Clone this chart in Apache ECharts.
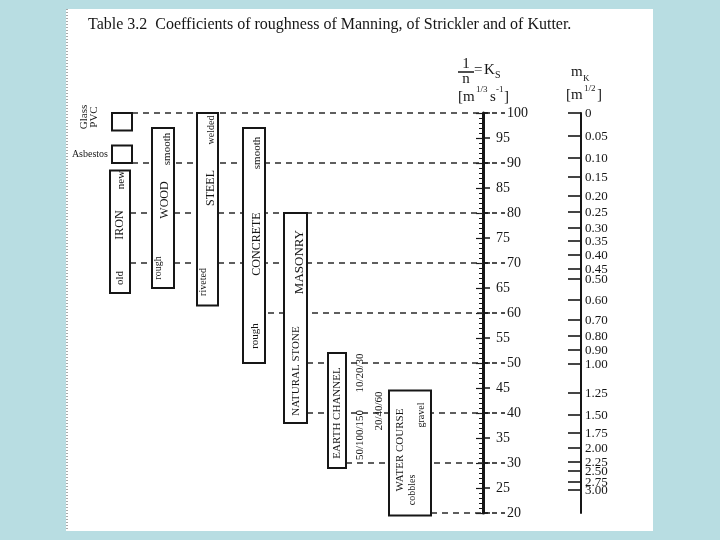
<!DOCTYPE html>
<html>
<head>
<meta charset="utf-8">
<script src="https://cdn.jsdelivr.net/npm/echarts@6/dist/echarts.min.js"></script>
<style>
  html, body { margin: 0; padding: 0; background: #b8dde2; }
  #chart { width: 720px; height: 540px; }
</style>
</head>
<body>
<div id="chart"></div>
<script>
// ranges of Ks = 1/n  [m^1/3 s^-1] for each material
const boxNames = ['Glass PVC', 'Asbestos', 'IRON', 'WOOD', 'STEEL', 'CONCRETE', 'MASONRY', 'EARTH CHANNEL', 'WATER COURSE'];
const ksTop = [100, 93.5, 88.5, 97, 100, 97, 80, 52, 44.5];
const ksBottom = [96.5, 90, 64, 65, 61.5, 50, 38, 29, 19.5];

// words written in / beside the boxes, and the Ks level of their centre
const noteText = ['old', 'IRON', 'new', 'rough', 'WOOD', 'smooth', 'riveted', 'STEEL', 'welded',
  'rough', 'CONCRETE', 'smooth', 'NATURAL STONE', 'MASONRY', 'EARTH CHANNEL', '50/100/150', '10/20/30', '20/40/60',
  'WATER COURSE', 'cobbles', 'gravel', 'Glass', 'PVC', 'Asbestos'];
const noteKs = [67, 77.6, 86.6, 69, 82.6, 92.8, 66.2, 85, 96.6,
  55.4, 73.8, 92, 48.4, 70.2, 40, 35.6, 48, 40.4,
  32.6, 24.6, 39.6, 99.2, 99.2, 91.8];

// dashed guide lines (Ks)
const guideKs = [100, 90, 80, 70, 60, 50, 40, 30, 20];

// Kutter scale m_K and the Ks level where each mark sits
const kutterLabels = ['0', '0.05', '0.10', '0.15', '0.20', '0.25', '0.30', '0.35', '0.40', '0.45', '0.50', '0.60',
  '0.70', '0.80', '0.90', '1.00', '1.25', '1.50', '1.75', '2.00', '2.25', '2.50', '2.75', '3.00'];
const kutterKs = [100, 95.4, 91, 87.2, 83.4, 80.2, 77, 74.4, 71.6, 68.8, 66.8, 62.6,
  58.6, 55.4, 52.6, 49.8, 44, 39.6, 36, 33, 30.2, 28.4, 26.2, 24.6];

// layout (pixels along the hidden x axis)
const boxLeft = [112, 112, 110, 152, 197, 243, 284, 328, 389];
const boxWidth = [20, 20, 20, 22, 21, 22, 23, 18, 42];
const noteX = [120, 120, 121, 158, 165, 167, 203, 211, 211,
  255, 257, 257, 296, 300, 337, 360, 360, 379,
  400, 412, 421, 84, 94, 108];
const noteSize = [11, 12, 11, 10, 12, 11, 10, 12, 10,
  11, 12, 11, 11, 13, 11, 11, 11, 11,
  11, 10, 10, 11, 11, 10];
const guideStart = [132, 132, 130, 130, 268, 307, 307, 346, 431];
const AXIS_X = 483;
const KUTTER_X = 581;
const SERIF = '"Liberation Serif", "Times New Roman", serif';
const INK = '#161616';

const chart = echarts.init(document.getElementById('chart'));

// right-hand axes pulled back into the plot with a negative offset
function scaleAxis(extra) {
  const ax = Object.assign({
    type: 'value', min: 20, max: 100, position: 'right', offset: AXIS_X - 720,
    axisLine: { show: false }, splitLine: { show: false },
    axisTick: { show: false }, axisLabel: { show: false }
  }, extra);
  ax.axisLine = Object.assign({ onZero: false }, ax.axisLine);
  return ax;
}

chart.setOption({
  backgroundColor: '#fff',
  animation: false,
  grid: { left: 0, right: 0, top: 113, bottom: 27, outerBoundsMode: 'none' },
  xAxis: { type: 'value', min: 0, max: 720, show: false, axisLine: { onZero: false } },
  yAxis: [
    // 0: axis line and small ticks every unit
    scaleAxis({
      interval: 1,
      axisLine: { show: true, lineStyle: { color: INK, width: 3 } },
      axisTick: { show: true, inside: true, length: 4, lineStyle: { color: INK, width: 1 } }
    }),
    // 1: longer ticks every 5
    scaleAxis({
      interval: 5,
      axisTick: { show: true, inside: true, length: 7, lineStyle: { color: INK, width: 1.2 } }
    }),
    // 2: labels 95, 85, ...
    scaleAxis({
      interval: 5,
      axisTick: { show: true, inside: false, length: 7, lineStyle: { color: INK, width: 1.5 } },
      axisLabel: {
        show: true, margin: 13, fontSize: 14, fontFamily: SERIF, color: INK,
        formatter: v => (v % 10 ? String(v) : '')
      }
    }),
    // 3: labels 100, 90, ...
    scaleAxis({
      interval: 10,
      axisTick: { show: true, inside: false, length: 22, lineStyle: { color: INK, width: 1.5, type: [5, 4] } },
      axisLabel: { show: true, margin: 24, fontSize: 14, fontFamily: SERIF, color: INK }
    }),
    // 4: Kutter scale line
    scaleAxis({
      offset: KUTTER_X - 720,
      axisLine: { show: true, lineStyle: { color: INK, width: 2 } }
    })
  ],
  graphic: [
    { type: 'rect', shape: { x: 0, y: 0, width: 66, height: 540 }, style: { fill: '#b8dde2' } },
    { type: 'rect', shape: { x: 653, y: 0, width: 67, height: 540 }, style: { fill: '#b8dde2' } },
    { type: 'rect', shape: { x: 0, y: 0, width: 720, height: 9 }, style: { fill: '#b8dde2' } },
    { type: 'rect', shape: { x: 0, y: 531, width: 720, height: 9 }, style: { fill: '#b8dde2' } },
    { type: 'line', shape: { x1: 67, y1: 9, x2: 67, y2: 531 }, style: { stroke: '#8c8c8c', lineWidth: 1.5, lineDash: [1, 2] } },
    {
      type: 'text', x: 88, y: 25,
      style: {
        text: 'Table 3.2  Coefficients of roughness of Manning, of Strickler and of Kutter.',
        font: '16px ' + SERIF, fill: INK, verticalAlign: 'middle'
      }
    },
    // 1/n = Ks
    { type: 'text', x: 466, y: 64, style: { text: '1', font: '15px ' + SERIF, fill: INK, align: 'center', verticalAlign: 'middle' } },
    { type: 'line', shape: { x1: 458, y1: 72, x2: 474, y2: 72 }, style: { stroke: INK, lineWidth: 1.5 } },
    { type: 'text', x: 466, y: 79, style: { text: 'n', font: '15px ' + SERIF, fill: INK, align: 'center', verticalAlign: 'middle' } },
    { type: 'text', x: 474, y: 70, style: { text: '=', font: '15px ' + SERIF, fill: INK, verticalAlign: 'middle' } },
    { type: 'text', x: 484, y: 70, style: { text: 'K', font: '15px ' + SERIF, fill: INK, verticalAlign: 'middle' } },
    { type: 'text', x: 495, y: 75, style: { text: 'S', font: '10px ' + SERIF, fill: INK, verticalAlign: 'middle' } },
    { type: 'text', x: 458, y: 97, style: { text: '[m', font: '15px ' + SERIF, fill: INK, verticalAlign: 'middle' } },
    { type: 'text', x: 476, y: 90, style: { text: '1/3', font: '9px ' + SERIF, fill: INK, verticalAlign: 'middle' } },
    { type: 'text', x: 490, y: 97, style: { text: 's', font: '15px ' + SERIF, fill: INK, verticalAlign: 'middle' } },
    { type: 'text', x: 496, y: 90, style: { text: '-1', font: '9px ' + SERIF, fill: INK, verticalAlign: 'middle' } },
    { type: 'text', x: 504, y: 97, style: { text: ']', font: '15px ' + SERIF, fill: INK, verticalAlign: 'middle' } },
    // m_K
    { type: 'text', x: 571, y: 72, style: { text: 'm', font: '15px ' + SERIF, fill: INK, verticalAlign: 'middle' } },
    { type: 'text', x: 583, y: 79, style: { text: 'K', font: '9px ' + SERIF, fill: INK, verticalAlign: 'middle' } },
    { type: 'text', x: 566, y: 95, style: { text: '[m', font: '15px ' + SERIF, fill: INK, verticalAlign: 'middle' } },
    { type: 'text', x: 584, y: 89, style: { text: '1/2', font: '9px ' + SERIF, fill: INK, verticalAlign: 'middle' } },
    { type: 'text', x: 597, y: 95, style: { text: ']', font: '15px ' + SERIF, fill: INK, verticalAlign: 'middle' } }
  ],
  series: [
    {
      name: 'boxes', type: 'custom', z: 2, yAxisIndex: 0,
      data: boxNames.map((n, i) => [i, ksTop[i], ksBottom[i]]),
      renderItem: (params, api) => {
        const i = api.value(0);
        const a = api.coord([boxLeft[i], api.value(1)]);
        const b = api.coord([boxLeft[i] + boxWidth[i], api.value(2)]);
        return {
          type: 'rect',
          shape: { x: a[0], y: a[1], width: b[0] - a[0], height: b[1] - a[1] },
          style: { fill: '#fff', stroke: INK, lineWidth: 2 }
        };
      }
    },
    {
      name: 'notes', type: 'custom', z: 3, yAxisIndex: 1,
      data: noteKs.map((k, i) => [i, k]),
      renderItem: (params, api) => {
        const i = api.value(0);
        const p = api.coord([noteX[i], api.value(1)]);
        const flat = noteText[i] === 'Asbestos';
        return {
          type: 'text', x: p[0], y: p[1], rotation: flat ? 0 : Math.PI / 2,
          style: {
            text: noteText[i], font: noteSize[i] + 'px ' + SERIF, fill: INK,
            align: flat ? 'right' : 'center', verticalAlign: 'middle'
          }
        };
      }
    },
    {
      name: 'kutter labels', type: 'custom', z: 3, yAxisIndex: 2,
      data: kutterKs.map((k, i) => [i, k]),
      renderItem: (params, api) => {
        const i = api.value(0);
        const p = api.coord([KUTTER_X, api.value(1)]);
        return {
          type: 'text', x: p[0] + 4, y: p[1] + 1,
          style: { text: kutterLabels[i], font: '13px ' + SERIF, fill: INK, verticalAlign: 'middle' }
        };
      }
    },
    {
      name: 'guides', type: 'custom', z: 1, yAxisIndex: 3,
      data: guideKs.map((k, i) => [i, k]),
      renderItem: (params, api) => {
        const i = api.value(0);
        const a = api.coord([guideStart[i], api.value(1)]);
        const b = api.coord([AXIS_X, api.value(1)]);
        return {
          type: 'line',
          shape: { x1: a[0], y1: a[1], x2: b[0], y2: b[1] },
          style: { stroke: '#2a2a2a', lineWidth: 1.4, lineDash: [6, 5] }
        };
      }
    },
    {
      name: 'kutter ticks', type: 'custom', z: 3, yAxisIndex: 4,
      data: kutterKs.map((k, i) => [i, k]),
      renderItem: (params, api) => {
        const p = api.coord([KUTTER_X, api.value(1)]);
        return {
          type: 'line', shape: { x1: p[0] - 13, y1: p[1], x2: p[0], y2: p[1] },
          style: { stroke: INK, lineWidth: 1.6 }
        };
      }
    }
  ]
});
</script>
</body>
</html>
